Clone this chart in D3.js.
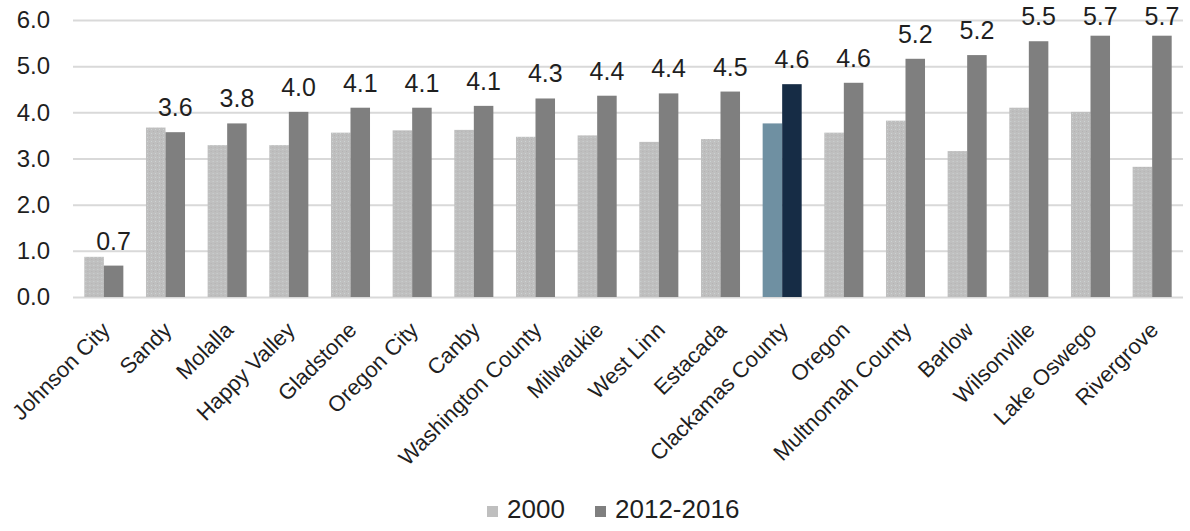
<!DOCTYPE html>
<html>
<head>
<meta charset="utf-8">
<script src="https://cdn.jsdelivr.net/npm/d3@7"></script>
<style>
  html, body { margin: 0; padding: 0; background: #ffffff; }
  svg { display: block; }
  text { font-family: "Liberation Sans", Arial, sans-serif; fill: #1f1f1f; }
</style>
</head>
<body>
<div id="chart"></div>
<script>
// ---- data ----
const categories = ["Johnson City", "Sandy", "Molalla", "Happy Valley", "Gladstone", "Oregon City",
  "Canby", "Washington County", "Milwaukie", "West Linn", "Estacada", "Clackamas County",
  "Oregon", "Multnomah County", "Barlow", "Wilsonville", "Lake Oswego", "Rivergrove"];
const values2000 = [0.87, 3.67, 3.29, 3.29, 3.56, 3.61, 3.62, 3.47, 3.50, 3.36, 3.42, 3.76,
  3.56, 3.82, 3.16, 4.10, 4.01, 2.82];
const values2012 = [0.68, 3.57, 3.76, 4.01, 4.10, 4.10, 4.14, 4.30, 4.36, 4.41, 4.45, 4.61,
  4.64, 5.16, 5.24, 5.54, 5.66, 5.66];
const seriesNames = ["2000", "2012-2016"];
const yTicks = [0, 1, 2, 3, 4, 5, 6];
const highlightCategory = "Clackamas County";

// ---- layout ----
const W = 1190, H = 531;
const mLeft = 73, mRight = 1183, mTop = 20, mBottom = 297;
const colors = { "2000": "#bfbfbf", "2012-2016": "#7f7f7f" };
const hlColors = { "2000": "#6f90a2", "2012-2016": "#162c45" };

const svg = d3.select("#chart").append("svg").attr("width", W).attr("height", H);

const defs = svg.append("defs");
const pat = defs.append("pattern").attr("id", "stipple").attr("patternUnits", "userSpaceOnUse")
  .attr("width", 4).attr("height", 4);
pat.append("rect").attr("width", 4).attr("height", 4).attr("fill", colors["2000"]);
pat.append("rect").attr("x", 1).attr("y", 1).attr("width", 1).attr("height", 1).attr("fill", "#cdd3d3");
pat.append("rect").attr("x", 3).attr("y", 3).attr("width", 1).attr("height", 1).attr("fill", "#b3b3b3");

const x = d3.scaleBand().domain(categories).range([mLeft, mRight]).paddingInner(0.367).paddingOuter(0.1835);
const x1 = d3.scaleBand().domain(seriesNames).range([0, x.bandwidth()]);
const y = d3.scaleLinear().domain([0, 6]).range([mBottom, mTop]);

// gridlines + y labels
const yAxis = d3.axisLeft(y).tickValues(yTicks).tickSize(-(mRight - mLeft)).tickPadding(23)
  .tickFormat(d3.format(".1f"));
const gy = svg.append("g").attr("transform", `translate(${mLeft},0)`).call(yAxis);
gy.select(".domain").remove();
gy.selectAll(".tick line").attr("stroke", "#d9d9d9").attr("stroke-width", 2);
gy.selectAll(".tick text").attr("font-size", 24).attr("fill", "#1f1f1f")
  .attr("font-family", "Liberation Sans, Arial, sans-serif");

// bars
const rows = categories.map((c, i) => ({ cat: c, vals: [values2000[i], values2012[i]] }));
const groups = svg.append("g").selectAll("g").data(rows).join("g")
  .attr("transform", d => `translate(${x(d.cat)},0)`);

groups.selectAll("rect").data(d => seriesNames.map((s, j) => ({ cat: d.cat, s, v: d.vals[j] })))
  .join("rect")
  .attr("x", d => x1(d.s))
  .attr("width", x1.bandwidth())
  .attr("y", d => y(d.v))
  .attr("height", d => y(0) - y(d.v))
  .attr("fill", d => d.cat === highlightCategory ? hlColors[d.s]
    : (d.s === "2000" ? "url(#stipple)" : colors[d.s]));

// data labels above 2012-2016 bars (kept inside the top of the chart)
svg.append("g").selectAll("text").data(rows).join("text")
  .attr("x", d => x(d.cat) + x1("2012-2016") + x1.bandwidth() / 2)
  .attr("y", d => Math.max(y(d.vals[1]) - 16, 25))
  .attr("text-anchor", "middle")
  .attr("font-size", 25)
  .text(d => d3.format(".1f")(d.vals[1]));

// category labels
svg.append("g").selectAll("text").data(categories).join("text")
  .attr("transform", d => `translate(${x(d) + x.bandwidth() / 2 + 2},326) rotate(-45)`)
  .attr("text-anchor", "end")
  .attr("dy", "0.35em")
  .attr("font-size", 22)
  .text(d => d);

// legend
const legend = svg.append("g");
const legendItems = [{ s: "2000", x: 487 }, { s: "2012-2016", x: 595 }];
legend.selectAll("rect").data(legendItems).join("rect")
  .attr("x", d => d.x).attr("y", 506).attr("width", 11).attr("height", 11)
  .attr("fill", d => colors[d.s]);
legend.selectAll("text").data(legendItems).join("text")
  .attr("x", d => d.x + 20).attr("y", 518)
  .attr("font-size", 26)
  .text(d => d.s);
</script>
</body>
</html>
